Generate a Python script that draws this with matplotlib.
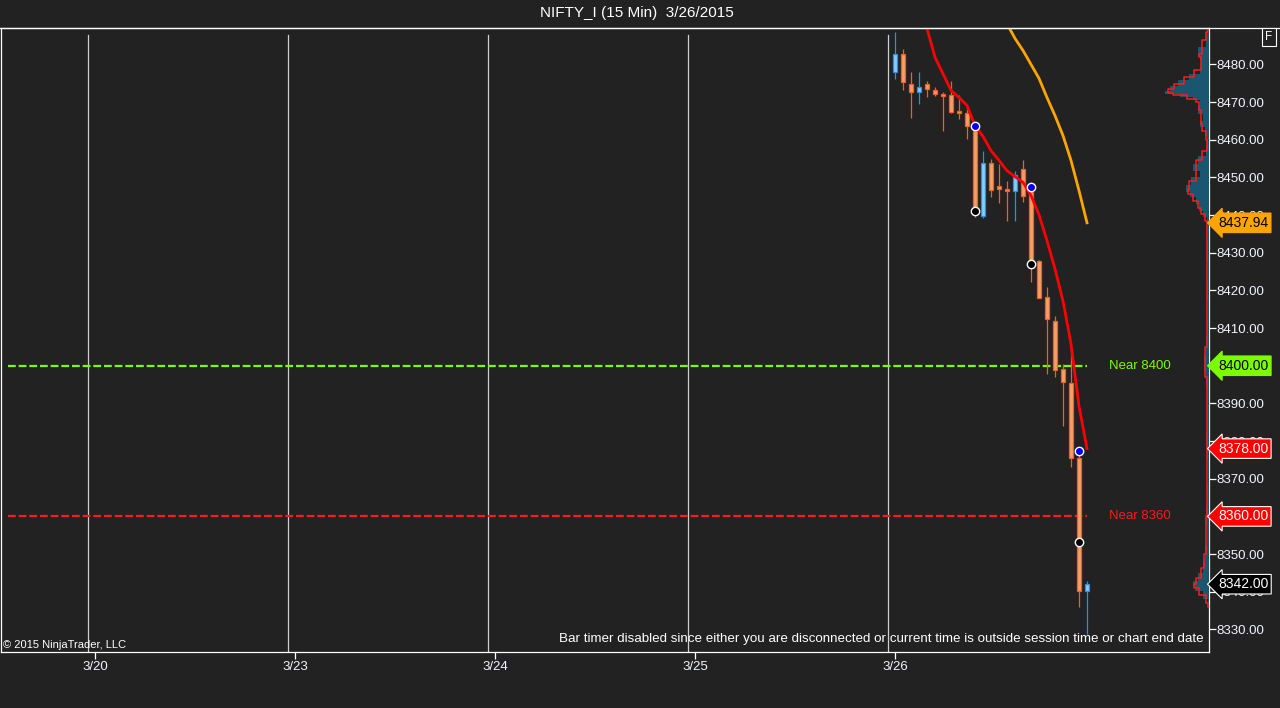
import matplotlib
matplotlib.use("Agg")
from matplotlib import pyplot as plt

plt.rcParams['font.family'] = ['Liberation Sans', 'DejaVu Sans']

BG = '#222222'

# x axis: 15 min bars, 25 bars per session
day_labels = ['3/20', '3/23', '3/24', '3/25', '3/26']
bars_per_day = 25

# candles of 3/26 (open, high, low, close)
opens = [8478.0, 8482.7, 8474.9, 8472.6, 8474.9, 8473.3, 8472.0, 8471.8, 8467.5, 8467.2,
         8462.2, 8439.8, 8453.9, 8447.6, 8447.0, 8446.3, 8452.3, 8446.0, 8427.9, 8418.3,
         8411.9, 8399.1, 8395.4, 8375.6, 8340.3]
highs = [8488.6, 8484.0, 8477.9, 8478.1, 8475.7, 8474.1, 8472.8, 8475.5, 8471.8, 8469.1,
         8463.7, 8456.9, 8455.0, 8453.6, 8449.1, 8451.8, 8454.5, 8447.5, 8428.2, 8420.8,
         8413.2, 8400.4, 8405.8, 8377.3, 8342.8]
lows = [8476.0, 8473.1, 8465.7, 8469.4, 8471.3, 8471.6, 8462.3, 8467.0, 8465.5, 8460.1,
        8439.4, 8439.1, 8444.7, 8443.1, 8438.3, 8438.3, 8443.6, 8422.3, 8418.0, 8397.9,
        8397.0, 8384.0, 8373.1, 8336.0, 8328.9]
closes = [8482.7, 8475.3, 8472.6, 8474.1, 8473.4, 8472.2, 8471.6, 8467.3, 8467.1, 8463.6,
          8441.1, 8453.9, 8446.6, 8446.8, 8446.3, 8450.7, 8445.0, 8427.0, 8418.1, 8412.3,
          8399.0, 8395.8, 8375.4, 8340.3, 8342.0]

# fast average (red) from bar 3, slow average (orange) from bar 14
fast_start = 3
fast_ma = [8497.0, 8489.5, 8481.9, 8477.5, 8473.1, 8471.2, 8469.1, 8463.8, 8460.9, 8457.1,
           8454.5, 8451.8, 8450.2, 8448.7, 8445.2, 8440.1, 8433.2, 8425.7, 8417.2, 8405.8,
           8389.3, 8378.0]
slow_start = 14
slow_ma = [8490.8, 8486.9, 8483.7, 8480.0, 8476.3, 8471.2, 8466.4, 8461.1, 8454.5, 8446.5,
           8437.94]

# swing dots (bar, price)
blue_dots = [(10, 8463.7), (17, 8447.5), (23, 8377.3)]
black_dots = [(10, 8441.1), (17, 8427.0), (23, 8353.3)]

# volume profile (price, width)
vp_price = [8489.5, 8488.6, 8486.4, 8482.8, 8481.9, 8480.2, 8478.4, 8476.6, 8474.9, 8473.5,
            8472.5, 8471.8, 8470.9, 8470.0, 8467.8, 8466.0, 8464.2, 8462.4, 8459.8, 8457.1,
            8454.5, 8452.7, 8450.9, 8449.1, 8446.9, 8445.6, 8443.8, 8442.0, 8440.3, 8438.5,
            8436.0, 8430.0, 8425.0, 8420.0, 8415.0, 8410.0, 8405.0, 8400.0, 8397.0, 8392.0,
            8385.0, 8380.0, 8378.0, 8372.0, 8365.0, 8360.0, 8355.0, 8350.0, 8346.3, 8343.6,
            8342.0, 8341.0, 8339.2, 8337.0, 8336.0]
vp_width = [1.0, 2.0, 3.3, 11.0, 9.3, 7.7, 9.3, 20.0, 31.0, 39.0,
            44.0, 29.0, 16.0, 9.3, 11.0, 6.0, 9.3, 4.3, 2.0, 2.7,
            11.0, 16.0, 9.3, 17.7, 23.3, 19.3, 12.7, 10.0, 6.0, 2.0,
            1.5, 2.0, 1.5, 2.5, 1.5, 2.0, 3.0, 5.0, 3.0, 2.0,
            2.0, 3.0, 2.0, 1.5, 2.0, 3.0, 2.5, 4.0, 6.0, 11.0,
            16.0, 14.0, 6.0, 1.0, 0.5]

# horizontal levels
levels = [8400.0, 8360.0]
level_names = ['Near 8400', 'Near 8360']
level_colors = ['#7cfc00', '#ff1a1a']

# price markers on the axis
markers = [(8437.94, '#ffa500', 'black', '#ffa500'),
           (8400.00, '#7cfc00', 'black', '#7cfc00'),
           (8378.00, '#ff0000', 'white', 'white'),
           (8360.00, '#ff0000', 'white', 'white'),
           (8342.00, 'black', 'white', 'white')]

fig = plt.figure(figsize=(12.8, 7.08), dpi=100, facecolor=BG)
ax = fig.add_axes([1 / 1280, 56 / 708, 1208 / 1280, 624.5 / 708])
ax.set_facecolor(BG)
ax.set_xlim(-11.75, 139.25)
ax.set_ylim(8324.0, 8489.8)

for s in ax.spines.values():
    s.set_color('white')
    s.set_linewidth(0.9)

# session separators
for d in range(len(day_labels)):
    ax.axvline(d * bars_per_day - 0.9, ymax=0.988, color='#cfcfcf', lw=0.9, zorder=1)

ax.set_xticks([d * bars_per_day for d in range(len(day_labels))])
ax.set_xticklabels(day_labels)
ax.yaxis.tick_right()
ax.set_yticks([8330 + 10 * i for i in range(16)])
ax.set_yticklabels(['%.2f' % (8330 + 10 * i) for i in range(16)])
ax.tick_params(colors='white', labelcolor='#f2f4ff', labelsize=9.5, length=5, width=0.9)
ax.tick_params(axis='y', pad=0.5)
ax.tick_params(axis='x', pad=1.5)

# volume profile
vp = ax.inset_axes([1148 / 1208, 0, 60 / 1208, 1])
vp.set_xlim(60, 0)
vp.set_ylim(ax.get_ylim())
vp.patch.set_alpha(0)
vp.axis('off')
vp.fill_betweenx(vp_price, 0, vp_width, step='mid', color='#1b5670', lw=0)
vp.plot(vp_width, vp_price, drawstyle='steps-mid', color='#ff1a1a', lw=1.1)

# levels
for lv, nm, c in zip(levels, level_names, level_colors):
    ax.hlines(lv, -10.9, 124, colors=c, lw=1.6, linestyles=(0, (3.5, 1.3)), zorder=2)
    ax.text(126.8, lv, nm, color=c, fontsize=9.5, va='center', ha='left')

# candles
off = 4 * bars_per_day
for i in range(len(opens)):
    o, h, l, c = opens[i], highs[i], lows[i], closes[i]
    if c >= o:
        fc, ec = '#87cefa', '#1e90ff'
    else:
        fc, ec = '#f7a066', '#ff5a1a'
    ax.vlines(off + i, l, h, colors=ec, lw=0.9, zorder=3)
    ax.bar(off + i, max(abs(c - o), 0.45), bottom=min(o, c), width=0.62,
           color=fc, edgecolor=ec, linewidth=0.9, zorder=4)

ax.plot([off + fast_start + i for i in range(len(fast_ma))], fast_ma,
        color='#ff0000', lw=2.0, zorder=5)
ax.plot([off + slow_start + i for i in range(len(slow_ma))], slow_ma,
        color='#ffa500', lw=2.0, zorder=5)

ax.plot([off + b for b, p in blue_dots], [p for b, p in blue_dots], 'o', ms=6,
        mfc='#0000ff', mec='white', mew=1, zorder=6)
ax.plot([off + b for b, p in black_dots], [p for b, p in black_dots], 'o', ms=6,
        mfc='black', mec='white', mew=1, zorder=6)

# price markers
tr = ax.get_yaxis_transform()
for p, fc, tc, ec in markers:
    ax.text(1.0075, p, '%.2f' % p, transform=tr, color=tc, fontsize=10, va='center',
            ha='left', clip_on=False, zorder=8,
            bbox=dict(boxstyle='larrow,pad=0.2', fc=fc, ec=ec, lw=0.8))

# texts
fig.text(0.4977, 1 - 13 / 708, 'NIFTY_I (15 Min)  3/26/2015', color='white',
         fontsize=11, ha='center', va='center')
fig.add_artist(plt.Line2D([0, 1], [1 - 27.5 / 708, 1 - 27.5 / 708], color='white', lw=0.9))
ax.text(0.0017, 0.004, '\u00a9 2015 NinjaTrader, LLC', transform=ax.transAxes,
        color='white', fontsize=8, ha='left', va='bottom')
ax.text(0.9955, 0.012, 'Bar timer disabled since either you are disconnected or current time '
        'is outside session time or chart end date', transform=ax.transAxes,
        color='white', fontsize=9.6, ha='right', va='bottom')
fig.text(1269 / 1280, 1 - 37 / 708, 'F', color='white', fontsize=8.5, ha='center', va='center',
         bbox=dict(boxstyle='square,pad=0.25', fc=BG, ec='white', lw=0.8))

fig.savefig('out.png', dpi=100, facecolor=BG)
